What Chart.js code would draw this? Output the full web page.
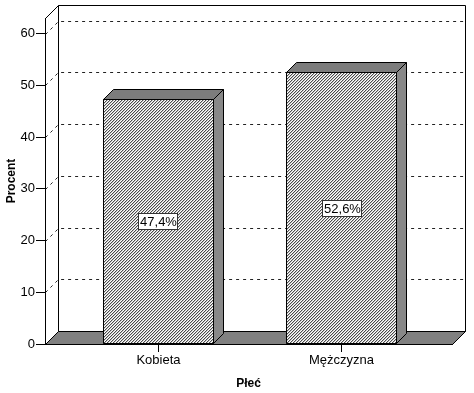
<!DOCTYPE html>
<html><head><meta charset="utf-8">
<script src="https://cdn.jsdelivr.net/npm/chart.js@4/dist/chart.umd.min.js"></script>
<style>html,body{margin:0;padding:0;background:#fff}#wrap{width:474px;height:393px}</style>
</head><body><div id="wrap"><canvas id="c" width="474" height="393"></canvas></div>
<script>
const categories = ['Kobieta', 'Mężczyzna'];
const percentValues = [47.4, 52.6];
const valueLabels = ['47,4%', '52,6%'];
const yTickStep = 10;
const xAxisTitle = 'Płeć';
const yAxisTitle = 'Procent';

const FONT = '"Liberation Sans", Arial, sans-serif';
const canvas = document.getElementById('c');
const mainCtx = canvas.getContext('2d');

function makeHatch() {
  const n = 3;
  const t = document.createElement('canvas');
  t.width = n; t.height = n;
  const g = t.getContext('2d');
  g.fillStyle = '#ffffff'; g.fillRect(0, 0, n, n);
  for (let i = 0; i < n; i++) {
    g.fillStyle = '#4a4a4a'; g.fillRect(i, n - 1 - i, 1, 1);
    g.fillStyle = '#c4c4c4'; g.fillRect((i + 1) % n, n - 1 - i, 1, 1);
  }
  return mainCtx.createPattern(t, 'repeat');
}
const hatch = makeHatch();

const DEPTH = 13, BAR_DEPTH = 10;
function poly(ctx, pts, fill, stroke) {
  ctx.beginPath();
  ctx.moveTo(pts[0][0], pts[0][1]);
  for (let i = 1; i < pts.length; i++) ctx.lineTo(pts[i][0], pts[i][1]);
  ctx.closePath();
  if (fill) { ctx.fillStyle = fill; ctx.fill(); }
  if (stroke) { ctx.strokeStyle = stroke; ctx.stroke(); }
}

const threeD = {
  id: 'threeD',
  beforeDraw(chart) {
    const ctx = chart.ctx;
    const { left, top, right, bottom } = chart.chartArea;
    const L = Math.round(left) + 0.5, T = Math.round(top) + 0.5, R = Math.round(right) + 0.5, B = Math.round(bottom) + 0.5;
    const d = DEPTH;
    ctx.save();
    ctx.lineWidth = 1;
    poly(ctx, [[L + d, T - d], [R + d, T - d], [R + d, B - d], [L + d, B - d]], '#fff', '#000');
    poly(ctx, [[L, T], [L + d, T - d], [L + d, B - d], [L, B]], '#fff', '#000');
    const ys = chart.scales.y;
    ctx.setLineDash([3, 4]);
    ctx.strokeStyle = '#222';
    ys.ticks.forEach(t => {
      if (t.value === 0) return;
      const py = Math.round(ys.getPixelForValue(t.value)) + 0.5;
      ctx.beginPath();
      ctx.moveTo(L, py);
      ctx.lineTo(L + d, py - d);
      ctx.lineTo(R + d, py - d);
      ctx.stroke();
    });
    ctx.setLineDash([]);
    poly(ctx, [[L, B], [L + d, B - d], [R + d, B - d], [R, B]], '#808080', '#000');
    ctx.restore();
  },
  afterDatasetsDraw(chart) {
    const ctx = chart.ctx;
    const meta = chart.getDatasetMeta(0);
    const b = BAR_DEPTH;
    ctx.save();
    ctx.lineWidth = 1;
    meta.data.forEach((bar, i) => {
      const x0 = Math.round(bar.x - bar.width / 2) + 0.5;
      const x1 = Math.round(bar.x + bar.width / 2) - 0.5;
      const y = Math.round(bar.y) + 0.5;
      const base = Math.round(bar.base) - 0.5;
      poly(ctx, [[x0, y], [x0 + b, y - b], [x1 + b, y - b], [x1, y]], '#7c7c7c', '#000');
      poly(ctx, [[x1, y], [x1 + b, y - b], [x1 + b, base - b], [x1, base]], '#888888', '#000');
      poly(ctx, [[x0, y], [x1, y], [x1, base], [x0, base]], null, '#000');
      ctx.font = '13px ' + FONT;
      const txt = valueLabels[i];
      const w = Math.ceil(ctx.measureText(txt).width) + 2;
      const h = 16;
      const cx = Math.round(bar.x), cy = Math.round((bar.y + bar.base) / 2);
      const bx = cx - Math.round(w / 2) + 0.5, by = cy - h / 2 + 0.5;
      ctx.fillStyle = '#fff';
      ctx.fillRect(bx, by, w, h);
      ctx.strokeStyle = '#333';
      ctx.strokeRect(bx, by, w, h);
      ctx.fillStyle = '#000';
      ctx.textAlign = 'center';
      ctx.textBaseline = 'middle';
      ctx.fillText(txt, cx + 0.5, cy + 1);
    });
    ctx.restore();
  }
};

new Chart(canvas, {
  type: 'bar',
  data: {
    datasets: [{
      data: categories.map((c, i) => ({ x: i, y: percentValues[i] })),
      backgroundColor: hatch,
      borderColor: '#000',
      borderWidth: 0,
      barPercentage: 0.6066,
      categoryPercentage: 1
    }]
  },
  options: {
    responsive: false,
    animation: false,
    devicePixelRatio: 1,
    layout: { padding: { top: 18, right: 22, left: 0, bottom: 0 } },
    plugins: { legend: { display: false }, tooltip: { enabled: false } },
    scales: {
      x: {
        type: 'linear',
        offset: false,
        min: -0.6202,
        max: 1.6038,
        afterFit: s => { s.height = 49; },
        afterBuildTicks: s => { s.ticks = categories.map((c, i) => ({ value: i })); },
        ticks: {
          callback: v => categories[v] ?? '',
          font: { family: FONT, size: 13 },
          color: '#000',
          padding: 1,
          maxRotation: 0,
          autoSkip: false
        },
        grid: { offset: false, drawOnChartArea: false, drawTicks: true, tickLength: 8, color: '#000' },
        border: { display: true, color: '#000' },
        title: { display: true, text: xAxisTitle, font: { family: FONT, size: 12, weight: 'bold' }, color: '#000', padding: { top: 0, bottom: 2 } }
      },
      y: {
        min: 0,
        max: 63,
        afterFit: s => { s.width = 45; },
        ticks: {
          stepSize: yTickStep,
          includeBounds: false,
          font: { family: FONT, size: 13 },
          color: '#000',
          padding: 1
        },
        grid: { drawOnChartArea: false, drawTicks: true, tickLength: 9, color: '#000' },
        border: { display: true, color: '#000' },
        title: { display: true, text: yAxisTitle, font: { family: FONT, size: 12, weight: 'bold' }, color: '#000', padding: { top: 4, bottom: 0 } }
      }
    }
  },
  plugins: [threeD]
});
</script></body></html>
